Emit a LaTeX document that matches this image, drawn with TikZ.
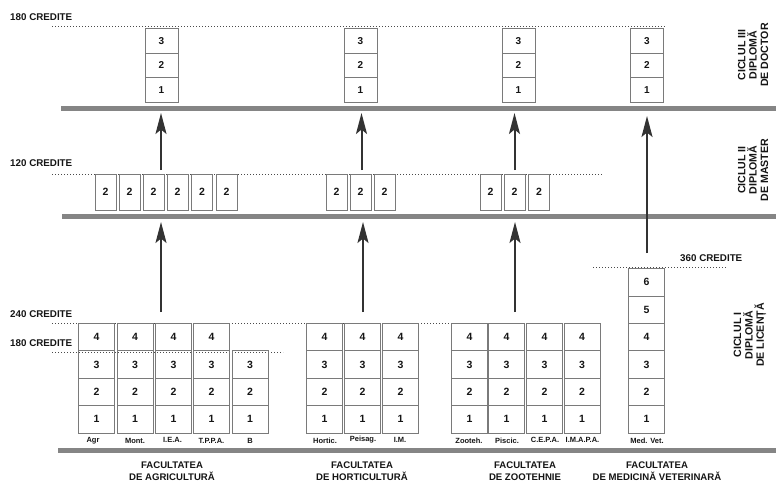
\documentclass[tikz,border=0pt]{standalone}
\usepackage{fontspec}
\setmainfont{Liberation Sans}
\usetikzlibrary{arrows.meta}
\definecolor{bargray}{HTML}{858585}
\definecolor{boxgray}{HTML}{7A7A7A}
\definecolor{arrgray}{HTML}{333333}
\definecolor{dotgray}{HTML}{4A4A4A}
\definecolor{txt}{HTML}{151515}
\begin{document}
\begin{tikzpicture}[x=1pt,y=-1pt,
  bar/.style={line width=5pt,draw=bargray},
  dotline/.style={draw=dotgray,line width=1pt,dash pattern=on 1.1pt off 1.9pt},
  lic/.style={draw=boxgray,line width=0.8pt,minimum width=36pt,minimum height=27.4pt,inner sep=0pt,text=txt,font=\bfseries\fontsize{10.5}{11}\selectfont},
  mas/.style={draw=boxgray,line width=0.8pt,minimum width=21pt,minimum height=36pt,inner sep=0pt,text=txt,font=\bfseries\fontsize{10.5}{11}\selectfont},
  doc/.style={draw=boxgray,line width=0.8pt,minimum width=33pt,minimum height=24.8pt,inner sep=0pt,text=txt,font=\bfseries\fontsize{10}{11}\selectfont},
  clab/.style={inner sep=0pt,text=txt,font=\bfseries\fontsize{7.5}{8}\selectfont},
  cred/.style={inner sep=0pt,anchor=west,text=txt,font=\bfseries\fontsize{9.8}{10}\selectfont},
  fac/.style={inner sep=0pt,align=center,text=txt,font=\bfseries\fontsize{9.6}{12}\selectfont},
  cyc/.style={inner sep=0pt,align=center,rotate=90,text=txt,font=\bfseries\fontsize{10.6}{11.4}\selectfont},
  arr/.style={draw=arrgray,line width=2pt,-{Stealth[length=21pt,width=11pt,inset=4.5pt]}}]
\useasboundingbox[fill=white] (0,0) rectangle (776,484);

% bars
\coordinate (b3l) at (61,108.5); \coordinate (b3r) at (776,108.5);
\coordinate (b2l) at (62,216.5); \coordinate (b2r) at (776,216.5);
\coordinate (b1l) at (58,450); \coordinate (b1r) at (776,450);
\draw[bar] (b3l) -- (b3r);
\draw[bar] (b2l) -- (b2r);
\draw[bar] (b1l) -- (b1r);

% dotted credit lines
\coordinate (d3l) at (52,27); \coordinate (d3r) at (665,27);
\coordinate (d2l) at (52,174); \coordinate (d2r) at (602,174);
\coordinate (d24l) at (52,323.5); \coordinate (d24r) at (592,323.5);
\coordinate (d18l) at (52,352); \coordinate (d18r) at (283,352);
\coordinate (d36l) at (593,267); \coordinate (d36r) at (727,267);
\draw[dotline] (d3l) -- (d3r);
\draw[dotline] (d2l) -- (d2r);
\draw[dotline] (d24l) -- (d24r);
\draw[dotline] (d18l) -- (d18r);
\draw[dotline] (d36l) -- (d36r);

\node[cred] (t180a) at (10,17) {180 CREDITE};
\node[cred] (t120) at (10,163.5) {120 CREDITE};
\node[cred] (t240) at (10,314.5) {240 CREDITE};
\node[cred] (t180b) at (10,343) {180 CREDITE};
\node[cred] (t360) at (680,258) {360 CREDITE};

% doctor boxes
\foreach \n/\cx in {da/161.5,db/360.5,dc/518.5,dd/647}{
  \foreach \k in {1,2,3}{
    \node[doc] (\n-\k) at (\cx,{102.6-24.8*(\k-0.5)}) {\k};
  }
}

% master boxes
\foreach \n/\cx in {m1/105.5,m2/129.5,m3/153.5,m4/177.5,m5/202,m6/226.5,m7/336.5,m8/360.5,m9/384.5,m10/490.5,m11/514.5,m12/539}{
  \node[mas] (\n) at (\cx,192) {2};
}

% licence columns
\foreach \n/\cx/\nr in {agr/96.5/4,mont/135/4,iea/173.5/4,tppa/211.5/4,bb/250/3,hort/324.5/4,peis/362.5/4,im/400.5/4,zoo/469.5/4,pisc/506.5/4,cepa/544.5/4,imapa/582/4,mv/646.5/6}{
  \foreach \k in {1,...,\nr}{
    \node[lic] (\n-\k) at (\cx,{433-27.4*(\k-0.5)}) {\k};
  }
}

% column labels
\node[clab] (l-agr) at (93,440.5) {Agr};
\node[clab] (l-mont) at (135,440.5) {Mont.};
\node[clab] (l-iea) at (172.5,440) {I.E.A.};
\node[clab] (l-tppa) at (211.5,440.5) {T.P.P.A.};
\node[clab] (l-b) at (250,440.5) {B};
\node[clab] (l-hort) at (325,440.5) {Hortic.};
\node[clab] (l-peis) at (363,440) {Peisag.};
\node[clab] (l-im) at (400,440) {I.M.};
\node[clab] (l-zoo) at (469,440.5) {Zooteh.};
\node[clab] (l-pisc) at (507,440.5) {Piscic.};
\node[clab] (l-cepa) at (545,440) {C.E.P.A.};
\node[clab] (l-imapa) at (582.5,440) {I.M.A.P.A.};
\node[clab] (l-mv) at (647,440.5) {Med. Vet.};

% faculty labels
\node[fac] (f1) at (172,471) {FACULTATEA\\DE AGRICULTURĂ};
\node[fac] (f2) at (362,471) {FACULTATEA\\DE HORTICULTURĂ};
\node[fac] (f3) at (525,471) {FACULTATEA\\DE ZOOTEHNIE};
\node[fac] (f4) at (657,471) {FACULTATEA\\DE MEDICINĂ VETERINARĂ};

% cycle labels
\node[cyc] (c3) at (753,55) {CICLUL III\\DIPLOMĂ\\DE DOCTOR};
\node[cyc] (c2) at (753,170) {CICLUL II\\DIPLOMĂ\\DE MASTER};
\node[cyc] (c1) at (750,335) {CICLUL I\\DIPLOMĂ\\DE LICENȚĂ};

% arrows
\coordinate (u1s) at (161,170); \coordinate (u1e) at (161,113);
\coordinate (u2s) at (361.5,170); \coordinate (u2e) at (361.5,113);
\coordinate (u3s) at (514.5,170); \coordinate (u3e) at (514.5,113);
\coordinate (u4s) at (647,253); \coordinate (u4e) at (647,116);
\coordinate (l1s) at (161,312); \coordinate (l1e) at (161,222);
\coordinate (l2s) at (363,312); \coordinate (l2e) at (363,222);
\coordinate (l3s) at (515,312); \coordinate (l3e) at (515,222);
\draw[arr] (u1s) -- (u1e);
\draw[arr] (u2s) -- (u2e);
\draw[arr] (u3s) -- (u3e);
\draw[arr] (u4s) -- (u4e);
\draw[arr] (l1s) -- (l1e);
\draw[arr] (l2s) -- (l2e);
\draw[arr] (l3s) -- (l3e);
\end{tikzpicture}
\end{document}
